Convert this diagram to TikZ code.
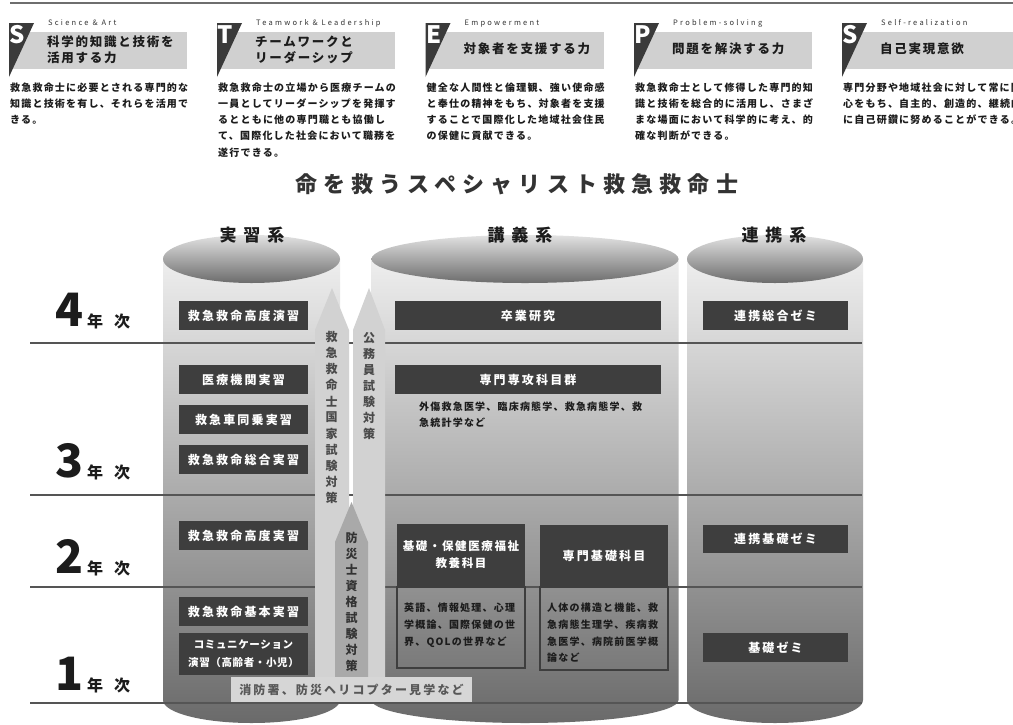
\documentclass[tikz,border=0pt]{standalone}
\usepackage{fontspec}
\setmainfont{Noto Sans CJK JP}
\newfontfamily\descfont[LetterSpace=12]{Noto Sans CJK JP}
\newfontfamily\labelfont[LetterSpace=18]{Noto Sans CJK JP}
\newfontfamily\headfont[LetterSpace=14]{Noto Sans CJK JP}
\newfontfamily\engfont[LetterSpace=30]{Noto Sans CJK JP}
\newfontfamily\titlefont[LetterSpace=28]{Noto Sans CJK JP}
\newfontfamily\colfont[LetterSpace=40]{Noto Sans CJK JP}
\newfontfamily\commfont[LetterSpace=6]{Noto Sans CJK JP}

\definecolor{boxdark}{HTML}{3E3E3E}
\definecolor{headgray}{HTML}{D0D0D0}
\definecolor{badgedark}{HTML}{3A3A3A}
\definecolor{arrowlight}{HTML}{D2D2D2}
\definecolor{arrowmid}{HTML}{A9A9A9}
\definecolor{rulegray}{HTML}{555555}
\definecolor{inkdark}{HTML}{1C1C1C}
\definecolor{inkmid}{HTML}{333333}
\definecolor{arrowink}{HTML}{4A4A4A}
\definecolor{visitbox}{HTML}{D6D6D6}
\definecolor{visitink}{HTML}{585858}
\definecolor{bodytop}{HTML}{EEEEEE}
\definecolor{bodybot}{HTML}{6A6A6A}
\definecolor{elltop}{HTML}{E2E2E2}
\definecolor{ellbot}{HTML}{6C6C6C}

% one competency block of the header row
\newcommand\hblock[7]{%
  \fill[headgray] (#1+4,32) rectangle (#1+178,69);
  \fill[badgedark] (#1,23) -- (#1+25,23) -- (#1,77) -- cycle;
  \node[badgeletter] (#2-letter) at (#1+0.5,43) {#3};
  \node[engtext] (#2-eng) at (#1+39,25) {#4};
  \foreach \t [count=\i from 0] in {#5}
    \node[headtitle] (#2-title-\i) at (#1+38,#7+16*\i) {\t};
  \foreach \d [count=\i from 0] in {#6}
    \node[bodytext] (#2-desc-\i) at (#1+1,91.3+16.2*\i) {\d};
}

% shaded cylinder body between two x positions
\newcommand\cylbody[2]{%
  \pgfmathsetmacro\cxm{(#1+#2)/2}
  \pgfmathsetmacro\rxm{(#2-#1)/2}
  \shade[top color=bodytop, bottom color=bodybot]
    (#1,259) -- (#1,700)
    .. controls (#1,712.7) and (\cxm-0.5523*\rxm,723) .. (\cxm,723)
    .. controls (\cxm+0.5523*\rxm,723) and (#2,712.7) .. (#2,700)
    -- (#2,259) -- cycle;
}

\tikzset{
  badgeletter/.style={anchor=base west, inner sep=0pt, text=white,
    font=\bfseries\fontsize{24}{24}\selectfont},
  engtext/.style={anchor=base west, inner sep=0pt, text=inkmid,
    font=\engfont\fontsize{7.5}{9}\selectfont},
  headtitle/.style={anchor=base west, inner sep=0pt, text=inkdark,
    font=\headfont\bfseries\fontsize{12.5}{15}\selectfont},
  bodytext/.style={anchor=base west, inner sep=0pt, text=inkdark,
    font=\descfont\bfseries\fontsize{10}{12}\selectfont},
  darkbox/.style={fill=boxdark, text=white, inner sep=0pt, align=center,
    font=\labelfont\bfseries\fontsize{12}{14}\selectfont},
  outlinebox/.style={draw=boxdark, line width=1.5pt, inner sep=0pt},
  rowline/.style={draw=rulegray, line width=1.2pt},
  arrowtext/.style={inner sep=0pt, text=arrowink,
    font=\bfseries\fontsize{12}{12}\selectfont},
  collabel/.style={anchor=base, inner sep=0pt, text=inkdark,
    font=\colfont\bfseries\fontsize{17}{17}\selectfont},
  yearnum/.style={anchor=base west, inner sep=0pt, text=inkdark,
    font=\bfseries\fontsize{46}{46}\selectfont},
  yearunit/.style={anchor=base west, inner sep=0pt, text=inkdark,
    font=\bfseries\fontsize{16}{16}\selectfont},
}

\begin{document}
\begin{tikzpicture}[x=1pt,y=-1pt]
\useasboundingbox (0,0) rectangle (1013,724);
\fill[white] (0,0) rectangle (1013,724);

% header row
\draw[rulegray!85, line width=2pt] (10,3) -- (1013,3);
\hblock{9}{sa}{S}{Science \& Art}{科学的知識と技術を,活用する力}%
  {救急救命士に必要とされる専門的な,知識と技術を有し、それらを活用で,きる。}{46.75}
\hblock{217}{tl}{T}{Teamwork \& Leadership}{チームワークと,リーダーシップ}%
  {救急救命士の立場から医療チームの,一員としてリーダーシップを発揮す,るとともに他の専門職とも協働し,て、国際化した社会において職務を,遂行できる。}{46.75}
\hblock{425.5}{em}{E}{Empowerment}{対象者を支援する力}%
  {健全な人間性と倫理観、強い使命感,と奉仕の精神をもち、対象者を支援,することで国際化した地域社会住民,の保健に貢献できる。}{53.75}
\hblock{634}{ps}{P}{Problem-solving}{問題を解決する力}%
  {救急救命士として修得した専門的知,識と技術を総合的に活用し、さまざ,まな場面において科学的に考え、的,確な判断ができる。}{53.75}
\hblock{842}{sr}{S}{Self-realization}{自己実現意欲}%
  {専門分野や地域社会に対して常に関,心をもち、自主的、創造的、継続的,に自己研鑽に努めることができる。}{53.75}

% main title
\node[anchor=base west, inner sep=0pt, text=inkmid,
  font=\titlefont\bfseries\fontsize{22}{22}\selectfont] (title) at (295,192.4)
  {命を救うスペシャリスト救急救命士};

% cylinders
\cylbody{163}{340}
\cylbody{371.5}{678.5}
\cylbody{687}{863}
\shade[top color=elltop, bottom color=ellbot] (251.5,259) ellipse [x radius=88.5pt, y radius=24pt];
\shade[top color=elltop, bottom color=ellbot] (525,259) ellipse [x radius=153.5pt, y radius=24pt];
\shade[top color=elltop, bottom color=ellbot] (775,259) ellipse [x radius=88pt, y radius=24pt];
\node[collabel] (colA) at (252,241.5) {実習系};
\node[collabel] (colB) at (520,241.5) {講義系};
\node[collabel] (colC) at (774,241.5) {連携系};

% year rows
\foreach \yy in {343,495,587,703}
  \draw[rowline] (30,\yy) -- (862,\yy);

% practical training column
\node[darkbox, minimum width=129pt, minimum height=29pt] (k1) at (243.5,315.5) {救急救命高度演習};
\node[darkbox, minimum width=129pt, minimum height=29pt] (k2) at (243.5,379.5) {医療機関実習};
\node[darkbox, minimum width=129pt, minimum height=29pt] (k3) at (243.5,419.5) {救急車同乗実習};
\node[darkbox, minimum width=129pt, minimum height=29pt] (k4) at (243.5,459.5) {救急救命総合実習};
\node[darkbox, minimum width=129pt, minimum height=29pt] (k5) at (243.5,535.5) {救急救命高度実習};
\node[darkbox, minimum width=129pt, minimum height=29pt] (k6) at (243.5,611.5) {救急救命基本実習};
\node[darkbox, minimum width=129pt, minimum height=42pt,
  font=\commfont\bfseries\fontsize{10.5}{18}\selectfont] (k7) at (243.5,654)
  {コミュニケーション\\演習（高齢者・小児）};

% lecture column
\node[darkbox, minimum width=266pt, minimum height=29pt] (g1) at (528,315.5) {卒業研究};
\node[darkbox, minimum width=266pt, minimum height=29pt] (g2) at (528,379.5) {専門専攻科目群};
\node[bodytext] (g2a) at (419,410.8) {外傷救急医学、臨床病態学、救急病態学、救};
\node[bodytext] (g2b) at (419,426.8) {急統計学など};

\node[outlinebox, minimum width=128pt, minimum height=81pt] (g3b) at (461,627.5) {};
\node[darkbox, minimum width=128pt, minimum height=62pt,
  font=\headfont\bfseries\fontsize{11.5}{17}\selectfont] (g3) at (461,555)
  {基礎・保健医療福祉\\教養科目};
\foreach \l [count=\i from 0] in {英語、情報処理、心理,学概論、国際保健の世,界、QOLの世界など}
  \node[bodytext] (g3t-\i) at (404,611.8+17*\i) {\l};

\node[outlinebox, minimum width=128pt, minimum height=83pt] (g4b) at (604,628.5) {};
\node[darkbox, minimum width=128pt, minimum height=62pt] (g4) at (604,556) {専門基礎科目};
\foreach \l [count=\i from 0] in {人体の構造と機能、救,急病態生理学、疾病救,急医学、病院前医学概,論など}
  \node[bodytext] (g4t-\i) at (547,611.8+16.7*\i) {\l};

% cooperation column
\node[darkbox, minimum width=145pt, minimum height=29pt] (r1) at (775.5,315.5) {連携総合ゼミ};
\node[darkbox, minimum width=145pt, minimum height=28pt] (r2) at (775.5,539) {連携基礎ゼミ};
\node[darkbox, minimum width=145pt, minimum height=29pt] (r3) at (775.5,647.5) {基礎ゼミ};

% exam preparation arrows
\fill[arrowlight] (332,288) -- (349,330) -- (349,677) -- (315,677) -- (315,330) -- cycle;
\fill[arrowlight] (369,288) -- (385,330) -- (385,677) -- (353,677) -- (353,330) -- cycle;
\fill[arrowmid] (351.5,502) -- (368,542) -- (368,677) -- (335,677) -- (335,542) -- cycle;
\foreach \c [count=\i from 0] in {救,急,救,命,士,国,家,試,験,対,策}
  \node[arrowtext] (na-\i) at (331.5,337+16.1*\i) {\c};
\foreach \c [count=\i from 0] in {公,務,員,試,験,対,策}
  \node[arrowtext] (pa-\i) at (369,338+16*\i) {\c};
\foreach \c [count=\i from 0] in {防,災,士,資,格,試,験,対,策}
  \node[arrowtext, text=inkmid] (da-\i) at (351.5,538+16*\i) {\c};

% field visits
\node[fill=visitbox, minimum width=241pt, minimum height=25pt, inner sep=0pt,
  text=visitink, font=\labelfont\bfseries\fontsize{12}{14}\selectfont] (visit)
  at (351.5,689.5) {消防署、防災ヘリコプター見学など};

% year labels
\node[yearnum] (y4) at (55,326) {4};
\node[yearunit] (y4u) at (87,327) {年\hspace{11pt}次};
\node[yearnum] (y3) at (55,477) {3};
\node[yearunit] (y3u) at (87,478) {年\hspace{11pt}次};
\node[yearnum] (y2) at (55,573) {2};
\node[yearunit] (y2u) at (87,574) {年\hspace{11pt}次};
\node[yearnum] (y1) at (55,690) {1};
\node[yearunit] (y1u) at (87,691) {年\hspace{11pt}次};
\end{tikzpicture}
\end{document}
